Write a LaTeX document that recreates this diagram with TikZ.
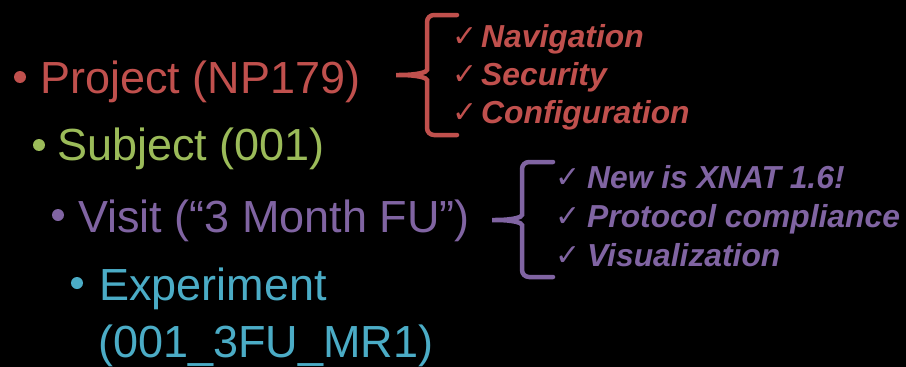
\documentclass[tikz,border=0pt]{standalone}
\usepackage{fontspec}
\setmainfont{Liberation Sans}
\newfontfamily\symfont{DejaVu Sans}
\definecolor{cred}{HTML}{C0504D}
\definecolor{cgreen}{HTML}{9BBB59}
\definecolor{cpurple}{HTML}{8064A2}
\definecolor{cblue}{HTML}{4BACC6}
\begin{document}
\begin{tikzpicture}[x=1pt,y=-1pt,
  mainlbl/.style={anchor=base west, inner sep=0pt, font=\fontsize{45}{45}\selectfont},
  notelbl/.style={anchor=base west, inner sep=0pt, font=\fontsize{31.8}{32}\selectfont\bfseries\itshape},
  checkmk/.style={anchor=base west, inner sep=0pt, font=\symfont\fontsize{30}{30}\selectfont},
  bulletdot/.style={circle, inner sep=0pt, minimum size=12pt, draw=none},
  bracepath/.style={line width=4.5pt, rounded corners=7pt, line cap=round}]
\fill[black] (0,0) rectangle (906,367);
\useasboundingbox (0,0) rectangle (906,367);
% main hierarchy
\node[bulletdot, fill=cred] (b1) at (20,77) {};
\node[mainlbl, text=cred] (proj) at (40,93) {Project (NP179)};
\node[bulletdot, fill=cgreen] (b2) at (39,145) {};
\node[mainlbl, text=cgreen] (subj) at (57,160) {Subject (001)};
\node[bulletdot, fill=cpurple] (b3) at (58,215) {};
\node[mainlbl, text=cpurple] (visit) at (78,232) {Visit (“3 Month FU”)};
\node[bulletdot, fill=cblue] (b4) at (77,283) {};
\node[mainlbl, text=cblue] (exp) at (99,300) {Experiment};
\node[mainlbl, text=cblue] (expid) at (98,357) {(001\_3FU\_MR1)};
% red notes
\node[checkmk, text=cred] (c1) at (452,46) {✓};
\node[notelbl, text=cred] (n1) at (481,47) {Navigation};
\node[checkmk, text=cred] (c2) at (452,84) {✓};
\node[notelbl, text=cred] (n2) at (481,85) {Security};
\node[checkmk, text=cred] (c3) at (452,122) {✓};
\node[notelbl, text=cred] (n3) at (481,123) {Configuration};
% purple notes
\node[checkmk, text=cpurple] (c4) at (555,187) {✓};
\node[notelbl, text=cpurple] (n4) at (587,188) {New is XNAT 1.6!};
\node[checkmk, text=cpurple] (c5) at (555,226) {✓};
\node[notelbl, text=cpurple] (n5) at (587,227) {Protocol compliance};
\node[checkmk, text=cpurple] (c6) at (555,265) {✓};
\node[notelbl, text=cpurple] (n6) at (587,266) {Visualization};
% braces
\draw[bracepath, cred] (457,15) -- (427,15) -- (427,63)
  .. controls (427,72) and (418,75) .. (392,75)
  .. controls (418,75) and (427,78) .. (427,87) -- (427,135) -- (457,135);
\draw[bracepath, cpurple] (553,162) -- (522,162) -- (522,208)
  .. controls (522,217) and (514,220) .. (488,220)
  .. controls (514,220) and (522,223) .. (522,232) -- (522,277) -- (553,277);
\end{tikzpicture}
\end{document}
